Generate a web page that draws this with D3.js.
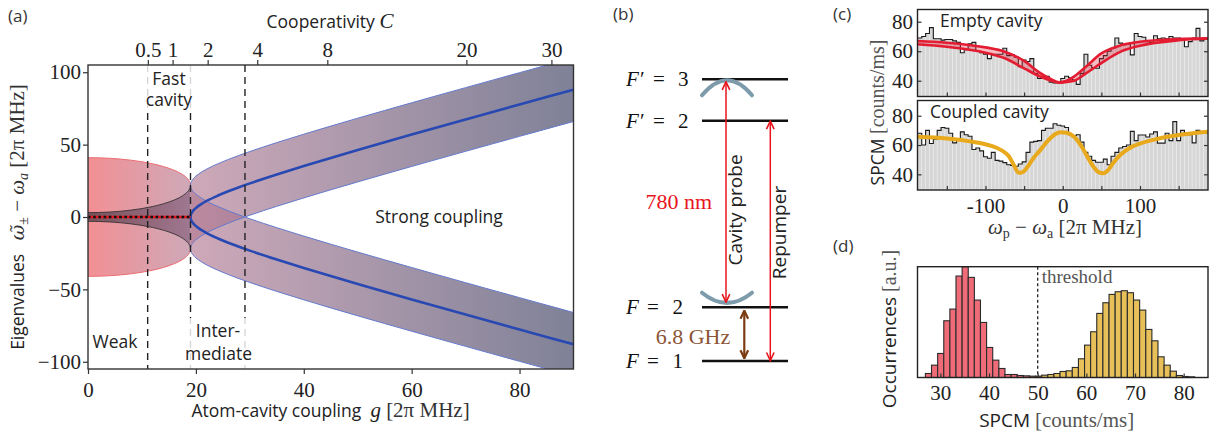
<!DOCTYPE html>
<html><head><meta charset="utf-8">
<script src="https://cdn.jsdelivr.net/npm/d3@7"></script>
<style>
body{margin:0;background:#fff;}
svg{display:block;}
text{white-space:pre;}
</style></head><body>
<svg id="fig" width="1211" height="439"></svg>
<script>
// ---------------- DATA ----------------
// Panel (a): eigenvalue branches
const gWeak = [0,2,4,6,8,10,12,14,15,16,17,18,18.5,18.8,18.95,19];
const outerWidth = [41,40.89,40.57,40.03,39.23,38.16,36.73,34.85,33.66,32.25,30.49,28.08,26.33,24.75,23.38,22];
const innerWidth = [3,3.11,3.43,3.97,4.77,5.84,7.27,9.15,10.34,11.75,13.51,15.92,17.67,19.25,20.62,22];
const gStrong = [19,19.05,19.25,19.5,20,21,22,24,26,28,30,35,40,45,50,55,60,65,70,75,80,85,90];
const splitting = [0,1.38,3.09,4.39,6.24,8.94,11.09,14.66,17.75,20.57,23.22,29.39,35.2,40.79,46.25,51.61,56.91,62.16,67.37,72.55,77.71,82.85,87.97];
const strongHalfWidth = 22;
const regimeBounds = [11.06, 19, 29.1];
const coopTicks = [0.5,1,2,4,8,20,30];
const gTicks = [0,20,40,60,80];
const eigTicks = [-100,-50,0,50,100];
const kappa = 41, gammaA = 3;

// Panel (b): level scheme
const levelSymbols = ["F′","F′","F","F"];
const levelNumbers = ["3","2","2","1"];
const levelHeights = [1, 0.853, 0.191, 0];

// Panel (c): spectra
const freqBins = [-185,-180,-175,-170,-165,-160,-155,-150,-145,-140,-135,-130,-125,-120,-115,-110,-105,-100,-95,-90,-85,-80,-75,-70,-65,-60,-55,-50,-45,-40,-35,-30,-25,-20,-15,-10,-5,0,5,10,15,20,25,30,35,40,45,50,55,60,65,70,75,80,85,90,95,100,105,110,115,120,125,130,135,140,145,150,155,160,165,170,175,180,185];
const emptyCounts = [69,70,72,76,68.5,68.5,67.5,68,68,67,66,59,61,65,66,60,59,58,55,57.5,58,58,62,57,57.5,56,49.5,54,53,55,45,41.5,43,43,39,38.5,39.5,41.5,43,42,40.5,37.5,45,58,50.5,49,48.5,55,57,60,62,69,65.5,64.5,65,57.5,72,70,69.5,66.5,66,70.5,68.5,69,68.5,70,69,69,68.5,63,66.5,69,75.5,67,68];
const coupledCounts = [68,60,70,61,64,70,72,71.5,68,61.5,64,69,67,66,57,58,56,52,51,55,49.5,49,48,46.5,46,45.5,47,48.5,55,62,62.5,63,70,71.5,71.5,74.5,73.5,73,72,67,66.5,67,62,55,52.3,49.5,48.2,48.2,50.4,46.5,52.3,55,58,59,60,69.3,63,66.8,66.8,65.5,67.5,69,61.3,61.3,68,63,76,63,70,68.5,67,61.5,70,69,68];
const emptyFitX = [-188,-150,-100,-75,-50,-30,-15,-5,5,15,30,50,75,100,150,188];
const emptyFitUpper = [66.9,65.8,62.6,59.7,53.4,45.5,41,39,40,43,49.5,58.5,64,66.4,68.3,68.8];
const emptyFitLower = [64.7,63,59,55.2,48.4,43,40,38.7,39.2,40,45,52,59.7,63.7,67.4,68.6];
const coupledFitX = [-188,-150,-120,-100,-85,-78,-70,-63,-57,-52,-45,-38,-30,-20,-10,-3,5,15,25,33,40,47,52,58,65,75,85,100,125,150,188];
const coupledFit = [65.7,64.5,62.5,60.5,58,56,52.5,46,41,41.5,45.5,51,56,62.5,67.3,68.7,68.4,65.5,58.5,51,45,41.3,40.7,42.5,47.5,53.5,57.5,61,64.5,66.8,69];
const freqTicks = [-150,-100,-50,0,50,100,150];
const spcmTicks = [40,60,80];

// Panel (d): SPCM histograms
const spcmBins = [27.55,28.81,30.07,31.33,32.58,33.84,35.10,36.36,37.61,38.87,40.13,41.39,42.65,43.90,45.16,46.42,47.68,48.94,50.19,51.45,52.71,53.97,55.22,56.48,57.74,59.00,60.26,61.51,62.77,64.03,65.29,66.55,67.80,69.06,70.32,71.58,72.84,74.09,75.35,76.61,77.87,79.13,80.38,81.64];
const emptyOcc = [12,37,72,170,205,304,332,300,232,165,90,52,27,9,9,6,5,4,3,0,0,0,0,0,0,0,0,0,0,0,0,0,0,0,0,0,0,0,0,0,0,0,0,0];
const coupledOcc = [0,0,0,0,0,0,0,0,0,0,0,0,0,0,0,0,0,0,4,7,9,12,18,20,30,56,97,137,192,224,249,257,260,254,232,202,144,110,62,37,19,6,3,2];
const spcmBinWidth = 1.26;
const threshold = 50;
const occTicks = [30,40,50,60,70,80];

// ---------------- DRAW ----------------
const SANS = "'Open Sans','Noto Sans',sans-serif";
const SERIF = "'Liberation Serif','Times New Roman',serif";
const DVS = "'DejaVu Serif',serif";
const svg = d3.select("#fig");
const defs = svg.append("defs");

function rich(parent, x, y, parts, opts={}) {
  const t = parent.append("text").attr("x",x).attr("y",y)
    .attr("text-anchor", opts.anchor||"start").attr("xml:space","preserve");
  if (opts.rotate) t.attr("transform",`rotate(-90,${x},${y})`);
  parts.forEach(p=>{
    const s = t.append("tspan").text(p.t).attr("font-family",p.f||SANS)
      .attr("font-size",p.s||17.5).attr("fill",p.c||"#222");
    if (p.i) s.attr("font-style","italic");
    if (p.dy) s.attr("dy",p.dy);
    if (p.dx) s.attr("dx",p.dx);
  });
  return t;
}
function styleAxis(g, fs){
  g.select(".domain").remove();
  g.selectAll(".tick line").attr("stroke","#333").attr("stroke-width",1.2);
  g.selectAll(".tick text").attr("font-family",SERIF).attr("font-size",fs).attr("fill","#222");
}

// ===== Panel (a) =====
const A = {l:88, r:573.5, t:65, b:369};
const xA = d3.scaleLinear().domain([0,90]).range([A.l,A.r]);
const yA = d3.scaleLinear().domain([-105,105]).range([A.b,A.t]);
const xCoop = d3.scaleSqrt().domain([0, 90*90/(2*kappa*gammaA)]).range([A.l,A.r]);

const bg = defs.append("linearGradient").attr("id","bandGrad").attr("gradientUnits","userSpaceOnUse")
  .attr("x1",A.l).attr("x2",A.r).attr("y1",0).attr("y2",0);
[[0,"rgb(236,84,90)"],[0.21,"rgb(180,122,146)"],[0.39,"rgb(152,110,138)"],[1,"rgb(58,62,96)"]]
  .forEach(([o,c])=>bg.append("stop").attr("offset",o).attr("stop-color",c));
const ig = defs.append("linearGradient").attr("id","innerGrad").attr("gradientUnits","userSpaceOnUse")
  .attr("x1",A.l).attr("x2",xA(19)).attr("y1",0).attr("y2",0);
ig.append("stop").attr("offset",0).attr("stop-color","rgb(40,48,58)").attr("stop-opacity",0.62);
ig.append("stop").attr("offset",1).attr("stop-color","rgb(80,40,80)").attr("stop-opacity",0.38);

defs.append("clipPath").attr("id","clipA").append("rect")
  .attr("x",A.l).attr("y",A.t).attr("width",A.r-A.l).attr("height",A.b-A.t);

const pa = svg.append("g").attr("clip-path","url(#clipA)");
const weak = gWeak.map((g,i)=>({g, o:outerWidth[i], n:innerWidth[i]}));
const strong = gStrong.map((g,i)=>({g, s:splitting[i]}));
const areaA = d3.area().x(d=>xA(d[0])).y0(d=>yA(d[1])).y1(d=>yA(d[2])).curve(d3.curveMonotoneX);
const lineA = d3.line().x(d=>xA(d[0])).y(d=>yA(d[1])).curve(d3.curveMonotoneX);

pa.append("path").attr("d",areaA(weak.map(d=>[d.g,-d.o,d.o]))).attr("fill","url(#bandGrad)").attr("fill-opacity",0.65);
pa.append("path").attr("d",areaA(weak.map(d=>[d.g,-d.n,d.n]))).attr("fill","url(#innerGrad)");
[1,-1].forEach(sg=>{
  pa.append("path").attr("d",areaA(strong.map(d=>[d.g, sg*d.s-strongHalfWidth, sg*d.s+strongHalfWidth])))
    .attr("fill","url(#bandGrad)").attr("fill-opacity",0.65);
});
[1,-1].forEach(sg=>{
  pa.append("path").attr("d",lineA(weak.map(d=>[d.g,sg*d.o]))).attr("fill","none").attr("stroke","rgb(236,110,115)").attr("stroke-width",1);
  pa.append("path").attr("d",lineA(weak.map(d=>[d.g,sg*d.n]))).attr("fill","none").attr("stroke","#2a2a2a").attr("stroke-width",0.8);
  [1,-1].forEach(e=>{
    pa.append("path").attr("d",lineA(strong.map(d=>[d.g, sg*d.s+e*strongHalfWidth]))).attr("fill","none")
      .attr("stroke","rgb(100,122,205)").attr("stroke-width",1);
  });
});
[1,-1].forEach(sg=>{
  pa.append("path").attr("d",lineA(strong.map(d=>[d.g, sg*d.s]))).attr("fill","none")
    .attr("stroke","#2848b2").attr("stroke-width",2.6);
});
pa.append("line").attr("x1",xA(0)).attr("x2",xA(19)).attr("y1",yA(0)).attr("y2",yA(0))
  .attr("stroke","#e8141c").attr("stroke-width",2.6);
pa.append("line").attr("x1",xA(0)).attr("x2",xA(19)).attr("y1",yA(0)).attr("y2",yA(0))
  .attr("stroke","#111").attr("stroke-width",2.6).attr("stroke-dasharray","2.6,2.6");
regimeBounds.forEach(g=>{
  pa.append("line").attr("x1",xA(g)).attr("x2",xA(g)).attr("y1",A.t).attr("y2",A.b)
    .attr("stroke","#222").attr("stroke-width",1.4).attr("stroke-dasharray","7,5");
});
pa.append("rect").attr("x",143).attr("y",A.t).attr("width",53).attr("height",47).attr("fill","#fff").attr("fill-opacity",0.82);
pa.append("rect").attr("x",183).attr("y",318).attr("width",72).attr("height",A.b-318).attr("fill","#fff").attr("fill-opacity",0.82);

const ta = svg.append("g");
rich(ta,169,85,[{t:"Fast"}],{anchor:"middle"});
rich(ta,169,106,[{t:"cavity"}],{anchor:"middle"});
rich(ta,218,336.5,[{t:"Inter-"}],{anchor:"middle"});
rich(ta,218.5,359.5,[{t:"mediate"}],{anchor:"middle"});
rich(ta,115,348,[{t:"Weak"}],{anchor:"middle"});
rich(ta,439,222.5,[{t:"Strong coupling"}],{anchor:"middle"});

svg.append("rect").attr("x",A.l).attr("y",A.t).attr("width",A.r-A.l).attr("height",A.b-A.t)
  .attr("fill","none").attr("stroke","#333").attr("stroke-width",1.4);
const axL = svg.append("g").attr("transform",`translate(${A.l},0)`)
  .call(d3.axisLeft(yA).tickValues(eigTicks).tickSize(5).tickPadding(2));
styleAxis(axL,21);
const axB = svg.append("g").attr("transform",`translate(0,${A.b})`)
  .call(d3.axisBottom(xA).tickValues(gTicks).tickSize(5).tickPadding(8));
styleAxis(axB,21);
const axT = svg.append("g").attr("transform",`translate(0,${A.t})`)
  .call(d3.axisTop(xCoop).tickValues(coopTicks).tickSize(5).tickPadding(3).tickFormat(d=>String(d)));
styleAxis(axT,21);

rich(svg,330,28,[{t:"Cooperativity "},{t:"C",f:SERIF,i:true,s:21}],{anchor:"middle"});
rich(svg,330.5,417,[{t:"Atom-cavity coupling  "},{t:"g",f:SERIF,i:true,s:21},{t:" [2π MHz]",f:SERIF,s:21,c:"#333"}],{anchor:"middle"});
rich(svg,24,217,[{t:"Eigenvalues   "},{t:"ω\u0303",f:DVS,i:true,s:19,c:"#333"},{t:"±",f:SERIF,s:14,dy:4,c:"#333"},
  {t:" − ",f:SERIF,s:21,dy:-4,c:"#333"},{t:"ω",f:SERIF,i:true,s:21,c:"#333"},{t:"a",f:SERIF,i:true,s:14,dy:4,c:"#333"},
  {t:" [2π MHz]",f:SERIF,s:21,dy:-4,c:"#333"}],{anchor:"middle",rotate:true});
rich(svg,8,22,[{t:"(a)",s:17,c:"#333"}]);

// ===== Panel (b) =====
const yB = d3.scaleLinear().domain([0,1]).range([361,79.3]);
const pb = svg.append("g");
rich(pb,613,20,[{t:"(b)",s:17,c:"#333"}]);
function arrowMarker(id,color,sw){
  defs.append("marker").attr("id",id).attr("markerUnits","userSpaceOnUse").attr("viewBox","0 0 10 10")
    .attr("markerWidth",10).attr("markerHeight",10).attr("refX",9).attr("refY",5).attr("orient","auto-start-reverse")
    .append("path").attr("d","M1,1.2 L9,5 L1,8.8").attr("fill","none").attr("stroke",color).attr("stroke-width",sw);
}
arrowMarker("arrR","#e8141c",1.6);
arrowMarker("arrBr","#7a3a12",2.2);
levelHeights.forEach((h,i)=>{
  const y = yB(h);
  pb.append("line").attr("x1",702).attr("x2",788).attr("y1",y).attr("y2",y).attr("stroke","#111").attr("stroke-width",2.6);
  const prime = levelSymbols[i].length>1;
  rich(pb,626,y+7,[{t:levelSymbols[i],f:SERIF,i:true,s:21,c:"#111"}]);
  rich(pb,prime?653:647,y+7,[{t:"=",f:SERIF,s:21,c:"#111"}]);
  rich(pb,prime?678:672.5,y+7,[{t:levelNumbers[i],f:SERIF,s:21,c:"#111"}]);
});
// cavity mirrors
pb.append("path").attr("d",`M702,${yB(1)+16} Q727,${yB(1)-14} 752,${yB(1)+16}`)
  .attr("fill","none").attr("stroke","#7d9bab").attr("stroke-width",4).attr("stroke-linecap","round");
pb.append("path").attr("d",`M702,${yB(0.191)-14.5} Q727,${yB(0.191)+5.9} 752,${yB(0.191)-14.5}`)
  .attr("fill","none").attr("stroke","#7d9bab").attr("stroke-width",4).attr("stroke-linecap","round");
pb.append("line").attr("x1",726).attr("x2",726).attr("y1",yB(1)+2.5).attr("y2",yB(0.191)-5)
  .attr("stroke","#e8141c").attr("stroke-width",1.5).attr("marker-start","url(#arrR)").attr("marker-end","url(#arrR)");
pb.append("line").attr("x1",770.3).attr("x2",770.3).attr("y1",yB(0.853)+0.5).attr("y2",yB(0)-0.5)
  .attr("stroke","#e8141c").attr("stroke-width",1.5).attr("marker-start","url(#arrR)").attr("marker-end","url(#arrR)");
pb.append("line").attr("x1",744.3).attr("x2",744.3).attr("y1",yB(0.191)+3.5).attr("y2",yB(0)-2.7)
  .attr("stroke","#7a3a12").attr("stroke-width",2.2).attr("marker-start","url(#arrBr)").attr("marker-end","url(#arrBr)");
rich(pb,742,210,[{t:"Cavity probe",s:19}],{anchor:"middle",rotate:true});
rich(pb,785.5,232.5,[{t:"Repumper",s:19}],{anchor:"middle",rotate:true});
rich(pb,678.8,209,[{t:"780 nm",f:SERIF,s:22,c:"#e8141c"}],{anchor:"middle"});
rich(pb,693,343.5,[{t:"6.8 GHz",f:SERIF,s:22,c:"#8c5536"}],{anchor:"middle"});

// ===== Panel (c) =====
const C = {l:917.5, r:1208};
const xCc = d3.scaleLinear().domain([-188,188]).range([C.l,C.r]);
const subs = [
  {t:9.5, b:96.5, dom:[29.3,88.3], counts:emptyCounts, id:"c1"},
  {t:100.5, b:190, dom:[29.3,90.4], counts:coupledCounts, id:"c2"}
];
rich(svg,833,20,[{t:"(c)",s:17,c:"#333"}]);
subs.forEach((sp,k)=>{
  const y = d3.scaleLinear().domain(sp.dom).range([sp.b,sp.t]);
  defs.append("clipPath").attr("id",sp.id).append("rect").attr("x",C.l).attr("y",sp.t).attr("width",C.r-C.l).attr("height",sp.b-sp.t);
  const g = svg.append("g").attr("clip-path",`url(#${sp.id})`);
  g.selectAll("rect.bar").data(freqBins).join("rect").attr("class","bar")
    .attr("x",d=>xCc(d-2.5)).attr("width",d=>xCc(d+2.5)-xCc(d-2.5))
    .attr("y",(d,i)=>y(sp.counts[i])).attr("height",(d,i)=>sp.b-y(sp.counts[i]))
    .attr("fill","#d6d6d6").attr("stroke","#ececec").attr("stroke-width",0.6);
  const pts = [];
  freqBins.forEach((c,i)=>{pts.push([c-2.5,sp.counts[i]]);pts.push([c+2.5,sp.counts[i]]);});
  g.append("path").attr("d",d3.line().x(d=>xCc(d[0])).y(d=>y(d[1]))(pts))
    .attr("fill","none").attr("stroke","#1a1a1a").attr("stroke-width",1.1);
  if (k===0){
    const ar = d3.area().x((d,i)=>xCc(emptyFitX[i])).y0((d,i)=>y(emptyFitLower[i])).y1((d,i)=>y(emptyFitUpper[i])).curve(d3.curveMonotoneX);
    g.append("path").attr("d",ar(emptyFitX)).attr("fill","rgb(225,35,55)").attr("fill-opacity",0.3);
    [emptyFitUpper,emptyFitLower].forEach(arr=>{
      g.append("path").attr("d",d3.line().x((d,i)=>xCc(emptyFitX[i])).y(d=>y(d)).curve(d3.curveMonotoneX)(arr))
        .attr("fill","none").attr("stroke","rgb(228,28,50)").attr("stroke-width",2.6);
    });
  } else {
    g.append("path").attr("d",d3.line().x((d,i)=>xCc(coupledFitX[i])).y(d=>y(d)).curve(d3.curveMonotoneX)(coupledFit))
      .attr("fill","none").attr("stroke","rgb(232,170,28)").attr("stroke-width",4);
  }
  svg.append("rect").attr("x",C.l).attr("y",sp.t).attr("width",C.r-C.l).attr("height",sp.b-sp.t)
    .attr("fill","none").attr("stroke","#222").attr("stroke-width",1.4);
  const al = svg.append("g").attr("transform",`translate(${C.l},0)`)
    .call(d3.axisLeft(y).tickValues(spcmTicks).tickSize(-4).tickPadding(4.5));
  styleAxis(al,21);
  const ar2 = svg.append("g").attr("transform",`translate(${C.r},0)`)
    .call(d3.axisRight(y).tickValues(spcmTicks).tickSize(-4).tickFormat(""));
  styleAxis(ar2,21);
  const ab = svg.append("g").attr("transform",`translate(0,${sp.b})`)
    .call(d3.axisBottom(xCc).tickValues(freqTicks).tickSize(-4).tickPadding(8)
      .tickFormat(d=> (k===1 && [-100,0,100].includes(d)) ? String(d).replace("−","-") : ""));
  styleAxis(ab,21);
});
rich(svg,940,26.5,[{t:"Empty cavity"}]);
rich(svg,930,117.5,[{t:"Coupled cavity"}]);
rich(svg,884,112.5,[{t:"SPCM ",s:17.5},{t:"[counts/ms]",f:SERIF,s:20,c:"#555"}],{anchor:"middle",rotate:true});
rich(svg,1065,234,[{t:"ω",f:SERIF,i:true,s:21,c:"#333"},{t:"p",f:SERIF,s:14,dy:4,c:"#333"},{t:" − ",f:SERIF,s:21,dy:-4,c:"#333"},
  {t:"ω",f:SERIF,i:true,s:21,c:"#333"},{t:"a",f:SERIF,s:14,dy:4,c:"#333"},{t:" [2π MHz]",f:SERIF,s:21,dy:-4,c:"#333"}],{anchor:"middle"});

// ===== Panel (d) =====
const D = {l:917.5, r:1208, t:266.7, b:377.5};
const xD = d3.scaleLinear().domain([25.3,85]).range([D.l,D.r]);
const yD = d3.scaleLinear().domain([0,332]).range([D.b,D.t]);
rich(svg,833,252,[{t:"(d)",s:17,c:"#333"}]);
const pd = svg.append("g");
[[emptyOcc,"#ef6b78"],[coupledOcc,"#e7c05a"]].forEach(([arr,col])=>{
  pd.selectAll(null).data(spcmBins.map((c,i)=>({c,v:arr[i]})).filter(d=>d.v>0)).join("rect")
    .attr("x",d=>xD(d.c-spcmBinWidth/2)).attr("width",d=>xD(d.c+spcmBinWidth/2)-xD(d.c-spcmBinWidth/2))
    .attr("y",d=>yD(d.v)).attr("height",d=>D.b-yD(d.v))
    .attr("fill",col).attr("stroke","#2b2b2b").attr("stroke-width",1.1);
});
pd.append("line").attr("x1",xD(threshold)).attr("x2",xD(threshold)).attr("y1",D.t).attr("y2",D.b)
  .attr("stroke","#222").attr("stroke-width",1.3).attr("stroke-dasharray","3,2.5");
rich(pd,xD(threshold)+4,283,[{t:"threshold",f:SERIF,s:19,c:"#555"}]);
svg.append("rect").attr("x",D.l).attr("y",D.t).attr("width",D.r-D.l).attr("height",D.b-D.t)
  .attr("fill","none").attr("stroke","#222").attr("stroke-width",1.4);
const adb = svg.append("g").attr("transform",`translate(0,${D.b})`)
  .call(d3.axisBottom(xD).tickValues(occTicks).tickSize(-4).tickPadding(8));
styleAxis(adb,21);
rich(svg,896,329,[{t:"Occurrences ",s:19},{t:"[a.u.]",f:SERIF,s:20,c:"#555"}],{anchor:"middle",rotate:true});
rich(svg,1056.7,427,[{t:"SPCM ",s:19},{t:"[counts/ms]",f:SERIF,s:21,c:"#555"}],{anchor:"middle"});
</script></body></html>
